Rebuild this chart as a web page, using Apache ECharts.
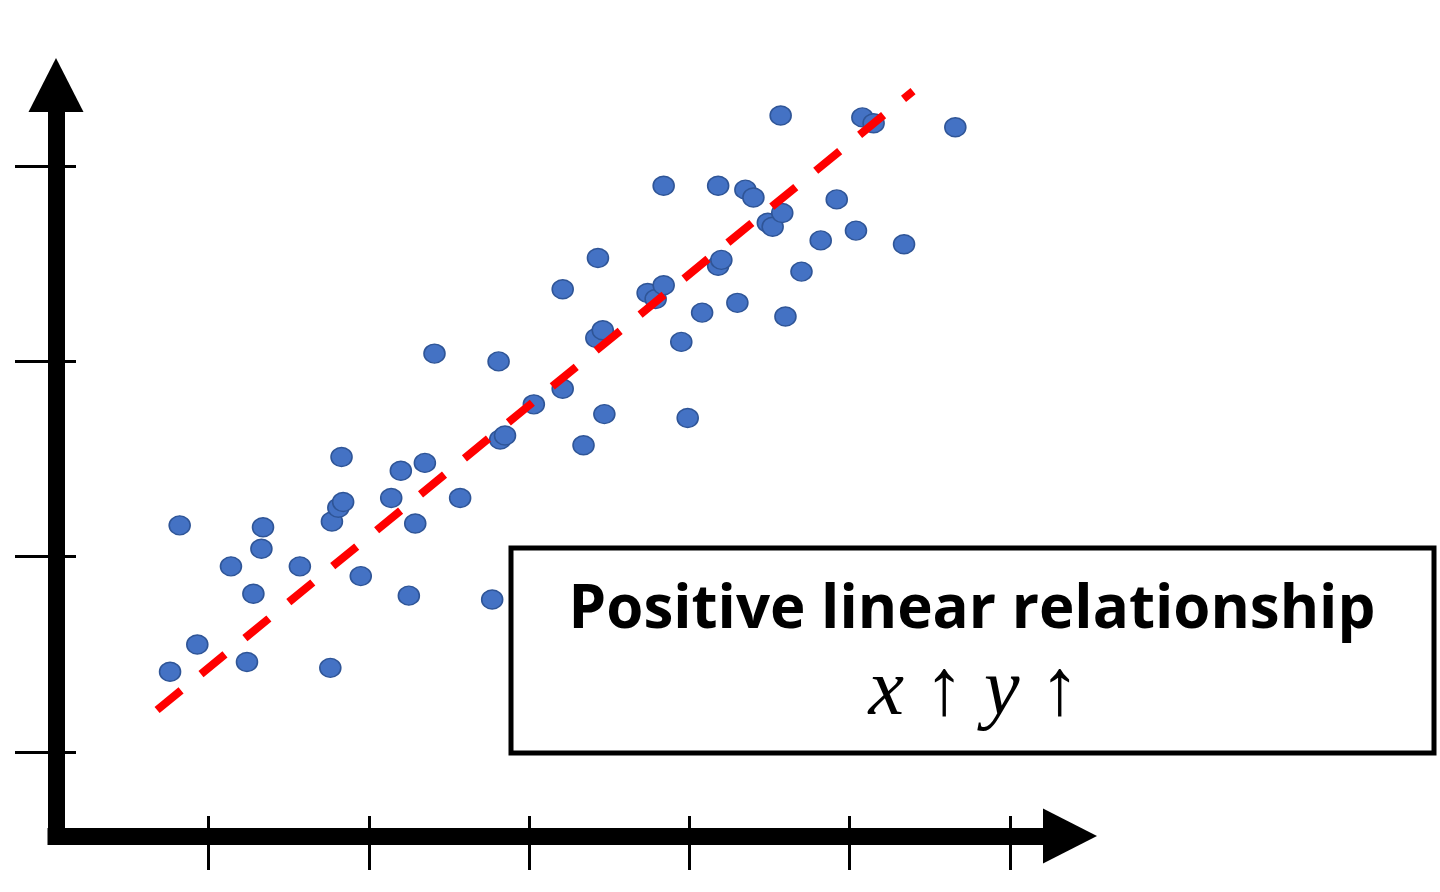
<!DOCTYPE html>
<html>
<head>
<meta charset="utf-8">
<script src="https://cdn.jsdelivr.net/npm/echarts@6/dist/echarts.min.js"></script>
<style>
  html, body { margin: 0; padding: 0; background: #ffffff; }
  #chart { width: 1440px; height: 892px; }
</style>
</head>
<body>
<div id="chart"></div>
<script>
// ---- data (axis units: tick 1..6 on x, tick 1..4 on y) ----
const xValues = [0.76,0.93,0.82,1.14,1.24,1.28,1.33,1.34,1.57,1.76,1.77,1.81,1.84,1.83,1.95,2.14,2.20,2.25,2.29,2.35,
                 2.57,2.41,2.77,2.81,2.82,2.85,3.03,3.21,3.21,3.34,3.43,3.47,3.42,3.46,3.74,3.79,3.84,3.84,3.95,3.99,
                 4.08,4.18,4.18,4.20,4.30,4.35,4.40,4.49,4.52,4.58,4.60,4.57,4.70,4.82,4.92,5.04,5.08,5.15,5.34,5.66];
const yValues = [1.41,1.55,2.16,1.95,1.46,1.81,2.04,2.15,1.95,1.43,2.18,2.25,2.28,2.51,1.90,2.30,2.44,1.80,2.17,2.48,
                 2.30,3.04,1.78,3.00,2.60,2.62,2.78,2.86,3.37,2.57,3.53,2.73,3.12,3.16,3.35,3.32,3.39,3.90,3.10,2.71,
                 3.25,3.90,3.49,3.52,3.30,3.88,3.84,3.71,3.69,3.76,3.23,4.26,3.46,3.62,3.83,3.67,4.25,4.22,3.60,4.20];
const trendX = [0.679, 5.396];
const trendY = [1.214, 4.385];
const xTicks = [1, 2, 3, 4, 5, 6];
const yTicks = [1, 2, 3, 4];
const boxTitle = 'Positive linear relationship';
const boxFormula = ['x', '↑', 'y', '↑'];

// ---- build ----
const points = xValues.map((x, i) => [x, yValues[i]]);
const trend = trendX.map((x, i) => [x, trendY[i]]);

const X_MIN = 0.0483, X_MAX = 6.3755, Y_MIN = 0.5686, Y_MAX = 4.416;

function baseAxis(extra) {
  return Object.assign({
    type: 'value',
    splitLine: { show: false },
    axisLabel: { show: false },
  }, extra);
}

const chart = echarts.init(document.getElementById('chart'), null, { renderer: 'canvas' });
chart.setOption({
  backgroundColor: '#ffffff',
  animation: false,
  grid: { left: 56, right: 370, top: 85, bottom: 56, outerBoundsMode: 'none', containLabel: false },
  xAxis: [
    baseAxis({
      position: 'bottom', min: X_MIN, max: X_MAX,
      axisLine: { show: true, onZero: false, symbol: ['none', 'triangle'], symbolSize: [55, 54],
                  lineStyle: { color: '#000', width: 17, cap: 'square' } },
      axisTick: { show: true, inside: false, length: 34, customValues: xTicks,
                  lineStyle: { color: '#000', width: 3 } }
    }),
    baseAxis({
      position: 'bottom', min: X_MIN, max: X_MAX,
      axisLine: { show: false, onZero: false },
      axisTick: { show: true, inside: true, length: 20, customValues: xTicks,
                  lineStyle: { color: '#000', width: 3 } }
    })
  ],
  yAxis: [
    baseAxis({
      position: 'left', min: Y_MIN, max: Y_MAX,
      axisLine: { show: true, onZero: false, symbol: ['none', 'triangle'], symbolSize: [55, 54],
                  lineStyle: { color: '#000', width: 17, cap: 'square' } },
      axisTick: { show: true, inside: false, length: 41, customValues: yTicks,
                  lineStyle: { color: '#000', width: 3 } }
    }),
    baseAxis({
      position: 'left', min: Y_MIN, max: Y_MAX,
      axisLine: { show: false, onZero: false },
      axisTick: { show: true, inside: true, length: 20, customValues: yTicks,
                  lineStyle: { color: '#000', width: 3 } }
    })
  ],
  series: [
    {
      type: 'scatter',
      data: points,
      symbol: 'circle',
      symbolSize: [21, 19],
      itemStyle: { color: '#4472c4', borderColor: '#2f5597', borderWidth: 1.5, opacity: 1 },
      z: 3
    },
    {
      type: 'line',
      data: trend,
      symbol: 'none',
      lineStyle: { color: '#ff0000', width: 8, type: [31, 25.75], cap: 'butt' },
      z: 4
    }
  ],
  graphic: [
    {
      type: 'rect', z: 100,
      shape: { x: 511, y: 548, width: 923, height: 205 },
      style: { fill: '#ffffff', stroke: '#000000', lineWidth: 5 }
    },
    {
      type: 'text', z: 101, x: 972, y: 611,
      style: { text: boxTitle, fill: '#000', fontFamily: 'Open Sans', fontWeight: 'bold', fontSize: 60,
               align: 'center', verticalAlign: 'middle' }
    },
    {
      type: 'text', z: 101, x: 974, y: 693,
      style: {
        text: '{i|' + boxFormula[0] + '}{a| ' + boxFormula[1] + ' }{i|' + boxFormula[2] + '}{a| ' + boxFormula[3] + '}',
        fill: '#000', fontFamily: 'Liberation Serif', fontSize: 80,
        align: 'center', verticalAlign: 'middle',
        rich: {
          i: { fontFamily: 'Liberation Serif', fontSize: 80, fontStyle: 'italic', fill: '#000' },
          a: { fontFamily: 'Liberation Serif', fontSize: 80, fill: '#000' }
        }
      }
    }
  ]
});
</script>
</body>
</html>
